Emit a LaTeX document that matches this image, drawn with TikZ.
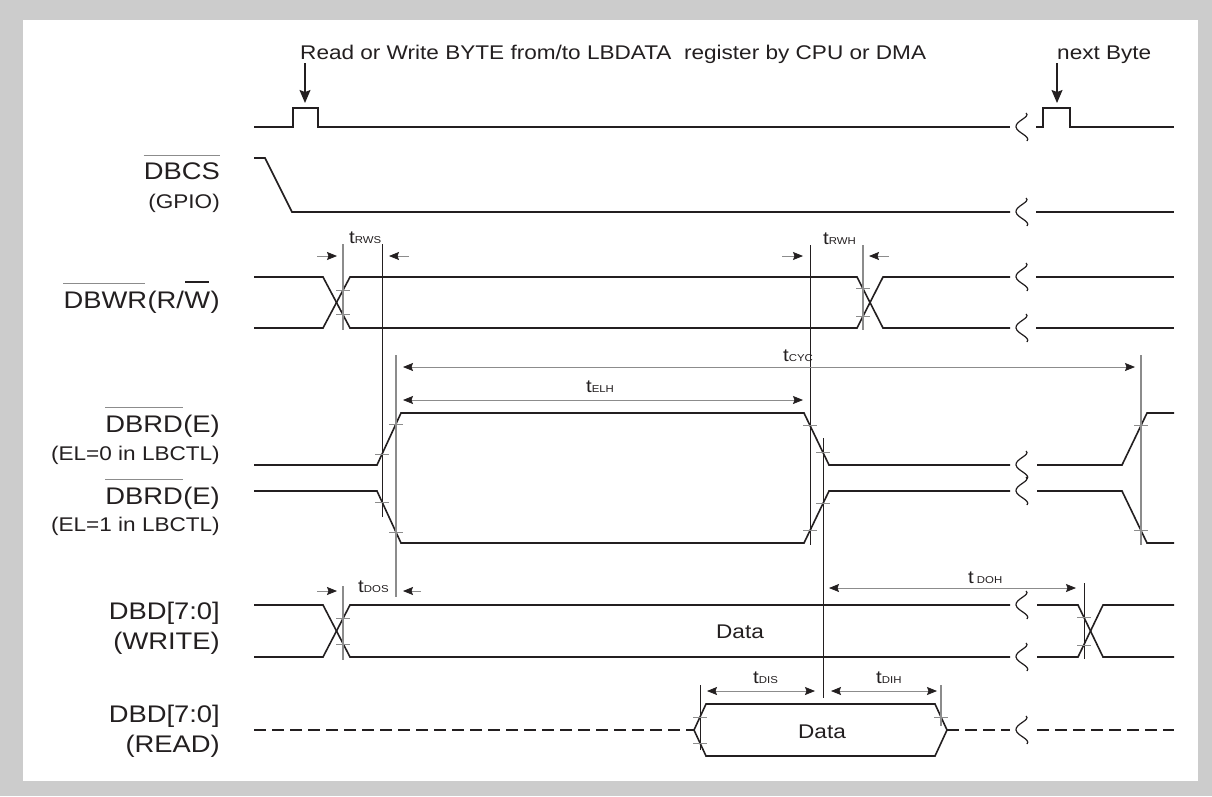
\documentclass[tikz,border=0pt]{standalone}
\usepackage{fontspec}
\setmainfont{Liberation Sans}[FakeStretch=1.14]
\usetikzlibrary{arrows.meta,calc}
\definecolor{sigc}{HTML}{231F20}
\definecolor{refg}{HTML}{8C8C8C}
\definecolor{bgg}{HTML}{CCCCCC}
\newcommand{\tmlab}[1]{t{\fontsize{10}{12}\selectfont #1}}
\newcommand{\brk}[2]{\draw[sig,line width=1.2pt] ({#1+4},{#2-14}) .. controls ({#1+9},{#2-10}) and ({#1-7},{#2-6}) .. ({#1-6},{#2}) .. controls ({#1-5},{#2+6}) and ({#1+9},{#2+9}) .. ({#1+5},{#2+14});}
\newcommand{\tk}[2]{\draw[tick] ({#1-7},{#2}) -- ({#1+7},{#2});}
\begin{document}
\begin{tikzpicture}[x=1pt,y=-1pt,
  sig/.style={draw=sigc,line width=1.6pt},
  vref/.style={draw=refg,line width=1.3pt},
  vdark/.style={draw=sigc,line width=1pt},
  tick/.style={draw=refg,line width=1pt},
  dim/.style={draw=refg,line width=0.8pt},
  da/.style={dim,-{Stealth[length=10pt,width=8pt,inset=1.5pt,color=sigc]}},
  dd/.style={dim,{Stealth[length=10pt,width=8pt,inset=1.5pt,color=sigc]}-{Stealth[length=10pt,width=8pt,inset=1.5pt,color=sigc]}},
  bigarr/.style={draw=sigc,line width=1.2pt,-{Stealth[length=13pt,width=11pt,inset=2pt,color=sigc]}},
  big/.style={inner sep=0pt,text=sigc,font=\fontsize{24}{28}\selectfont},
  small/.style={inner sep=0pt,text=sigc,font=\fontsize{19.8}{24}\selectfont},
  tl/.style={inner sep=0pt,text=sigc,font=\fontsize{18}{20}\selectfont},
  ovl/.style={draw=refg,line width=0.8pt}]
\useasboundingbox (0,0) rectangle (1212,796);
\fill[bgg] (0,0) rectangle (1212,796);
\fill[white] (23,20) rectangle (1198,781);

% title texts and arrows
\node[small,anchor=base west] (title) at (300,59) {Read or Write BYTE from/to LBDATA\ \ register by CPU or DMA};
\node[small,anchor=base west] (nextb) at (1057,59) {next Byte};
\draw[bigarr] (305,63) -- (305,103);
\draw[bigarr] (1057,63) -- (1057,103);

% top pulse signal
\draw[sig] (254,127) -- (293,127) -- (293,108) -- (318,108) -- (318,127) -- (1010,127);
\brk{1022}{127}
\draw[sig] (1036,127) -- (1043,127) -- (1043,108) -- (1070,108) -- (1070,127) -- (1174,127);

% labels
\node[big,anchor=base east] (dbcs) at (220,179.5) {DBCS};
\draw[ovl] ($(dbcs.base west)+(0,-24.5)$) -- ($(dbcs.base east)+(0,-24.5)$);
\node[small,anchor=base east] (gpio) at (220,208) {(GPIO)};

\node[big,anchor=base east] (rp) at (220,308) {)};
\node[big,anchor=base east] (ww) at (rp.base west) {W};
\node[big,anchor=base east] (rs) at (ww.base west) {(R/};
\node[big,anchor=base east] (dbwr) at (rs.base west) {DBWR\hspace{2pt}};
\draw[ovl] ($(dbwr.base west)+(0,-24.5)$) -- ($(dbwr.base east)+(-2,-24.5)$);
\draw[sigc,line width=2.6pt] ($(ww.base west)+(1,-26)$) -- ($(ww.base east)+(-1,-26)$);

\node[big,anchor=base east] (rd0e) at (220,432) {(E)};
\node[big,anchor=base east] (rd0) at (rd0e.base west) {DBRD};
\draw[ovl] ($(rd0.base west)+(0,-24.5)$) -- ($(rd0.base east)+(0,-24.5)$);
\node[small,anchor=base east] (el0) at (220,460) {(EL=0 in LBCTL)};
\node[big,anchor=base east] (rd1e) at (220,504) {(E)};
\node[big,anchor=base east] (rd1) at (rd1e.base west) {DBRD};
\draw[ovl] ($(rd1.base west)+(0,-24.5)$) -- ($(rd1.base east)+(0,-24.5)$);
\node[small,anchor=base east] (el1) at (220,531) {(EL=1 in LBCTL)};

\node[big,anchor=base east] (dbdw) at (220,619) {DBD[7:0]};
\node[big,anchor=base east] (wr) at (220,649) {(WRITE)};
\node[big,anchor=base east] (dbdr) at (220,722) {DBD[7:0]};
\node[big,anchor=base east] (rdl) at (220,752) {(READ)};

% DBCS
\draw[sig] (254,158) -- (265,158) -- (292,212) -- (1010,212);
\brk{1022}{212}
\draw[sig] (1036,212) -- (1174,212);

% DBWR
\draw[sig] (254,277) -- (323,277) -- (350,328) -- (857,328) -- (883,277) -- (1010,277);
\draw[sig] (254,328) -- (323,328) -- (350,277) -- (857,277) -- (883,328) -- (1010,328);
\brk{1022}{277}
\brk{1022}{328}
\draw[sig] (1036,277) -- (1174,277);
\draw[sig] (1036,328) -- (1174,328);

% DBRD EL=0
\draw[sig] (254,465) -- (377,465) -- (401,413) -- (804,413) -- (829,465) -- (1010,465);
\brk{1022}{465}
\draw[sig] (1037,465) -- (1122,465) -- (1147,413) -- (1174,413);
% DBRD EL=1
\draw[sig] (254,491) -- (377,491) -- (401,543) -- (804,543) -- (829,491) -- (1010,491);
\brk{1022}{491}
\draw[sig] (1037,491) -- (1122,491) -- (1147,543) -- (1174,543);

% DBD WRITE
\draw[sig] (254,605) -- (323,605) -- (350,657) -- (1010,657);
\draw[sig] (254,657) -- (323,657) -- (350,605) -- (1010,605);
\brk{1022}{605}
\brk{1022}{657}
\draw[sig] (1037,605) -- (1078,605) -- (1103,657) -- (1174,657);
\draw[sig] (1037,657) -- (1078,657) -- (1103,605) -- (1174,605);
\node[small,anchor=base] (dw) at (740,638) {Data};

% DBD READ
\draw[sig,dash pattern=on 12pt off 6pt] (254,730) -- (694,730);
\draw[sig] (694,730) -- (706,704) -- (935,704) -- (947,730) -- (935,756) -- (706,756) -- cycle;
\draw[sig,dash pattern=on 12pt off 6pt] (947,730) -- (1010,730);
\brk{1022}{730}
\draw[sig,dash pattern=on 12pt off 6pt] (1037,730) -- (1174,730);
\node[small,anchor=base] (dr) at (822,738) {Data};

% vertical reference lines
\draw[vref] (343,244) -- (343,330);
\draw[vdark] (382,244) -- (382,517);
\draw[vref] (396,355) -- (396,597);
\draw[vdark] (810,245) -- (810,545);
\draw[vref] (863,245) -- (863,330);
\draw[vdark] (823,438) -- (823,698);
\draw[vref] (1141,355) -- (1141,545);
\draw[vref] (343,586) -- (343,660);
\draw[vdark] (1084,583) -- (1084,659);
\draw[vdark] (700,685) -- (700,750);
\draw[vref] (941,685) -- (941,726);

% ticks
\tk{343}{290} \tk{343}{314}
\tk{863}{288} \tk{863}{316}
\tk{382}{454} \tk{396}{424} \tk{382}{502} \tk{396}{532}
\tk{810}{425.5} \tk{823}{452.5} \tk{810}{530.5} \tk{823}{503.5}
\tk{1141}{425.5} \tk{1141}{530.5}
\tk{343}{618} \tk{343}{644}
\tk{1084}{617} \tk{1084}{645}
\tk{700}{717} \tk{700}{743} \tk{941}{717}

% timing dimensions
\draw[da] (317,256) -- (337,256);
\draw[da] (409,256) -- (389,256);
\node[tl,anchor=base west] (trws) at (349,243) {\tmlab{RWS}};
\draw[da] (782,256) -- (803,256);
\draw[da] (889,256) -- (869,256);
\node[tl,anchor=base west] (trwh) at (823,244) {\tmlab{RWH}};
\draw[dd] (403,367) -- (1135,367);
\node[tl,anchor=base] (tcyc) at (798,361) {\tmlab{CYC}};
\draw[dd] (403,400) -- (803,400);
\node[tl,anchor=base] (telh) at (600,392) {\tmlab{ELH}};
\draw[da] (317,591) -- (337,591);
\draw[da] (421,591) -- (403,591);
\node[tl,anchor=base west] (tdos) at (358,592) {\tmlab{DOS}};
\draw[dd] (829,588) -- (1076,588);
\node[tl,anchor=base west] (tdoh) at (968,583) {t\,{\fontsize{10}{12}\selectfont DOH}};
\draw[dd] (707,691) -- (815,691);
\node[tl,anchor=base west] (tdis) at (753,683) {\tmlab{DIS}};
\draw[dd] (831,691) -- (937,691);
\node[tl,anchor=base west] (tdih) at (876,683) {\tmlab{DIH}};
\end{tikzpicture}
\end{document}
